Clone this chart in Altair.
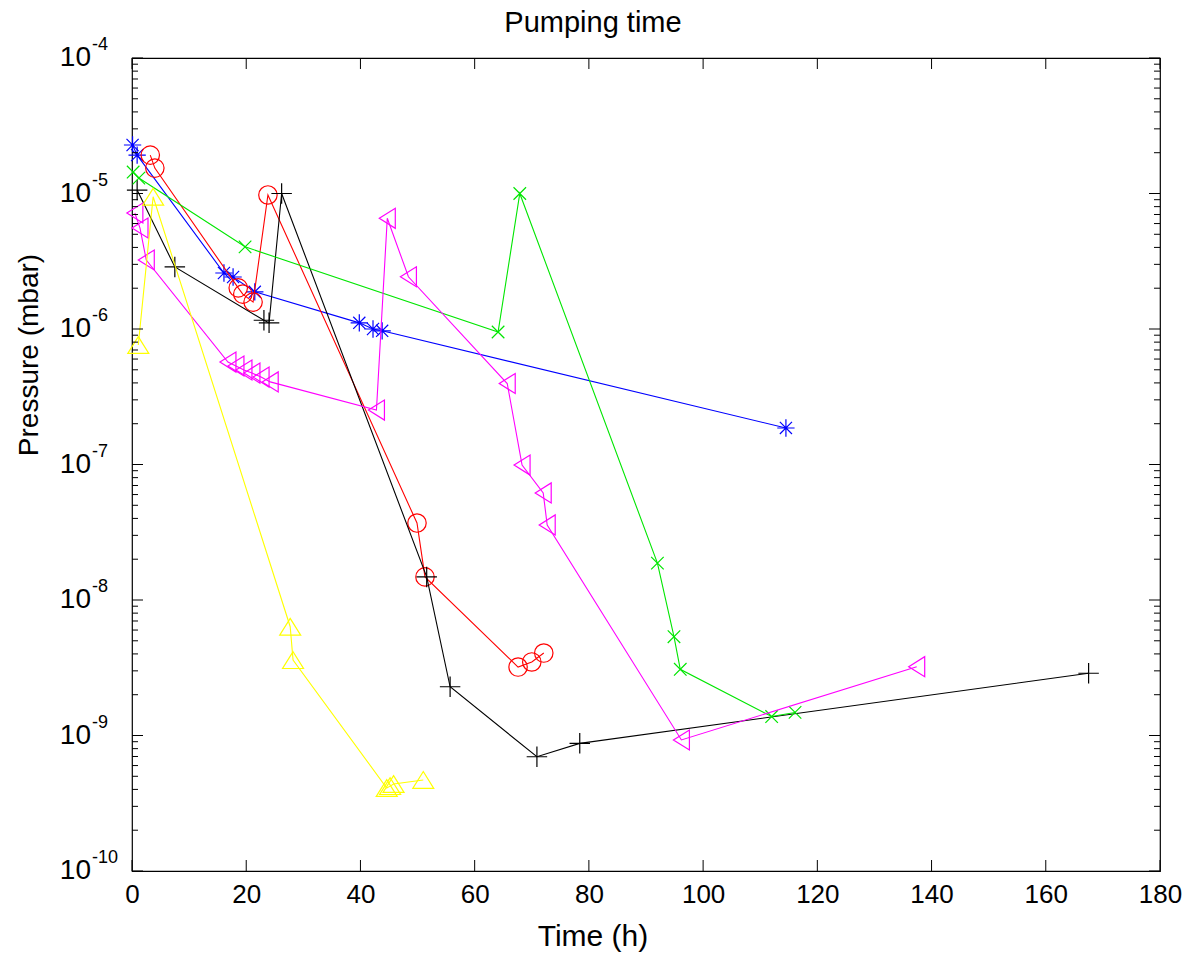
import altair as alt
import pandas as pd

# ---- data ----
blue_t = [0.1, 0.9, 16.1, 17.7, 21.5, 39.8, 42.2, 43.8, 114.5]
blue_p = [2.28e-5, 1.92e-5, 2.59e-6, 2.42e-6, 1.88e-6, 1.11e-6, 1.0e-6, 9.7e-7, 1.86e-7]

red_t = [3.2, 4.0, 18.6, 19.4, 21.2, 23.8, 49.9, 51.3, 67.6, 70.0, 72.1]
red_p = [1.92e-5, 1.54e-5, 2.01e-6, 1.81e-6, 1.58e-6, 9.75e-6, 3.7e-8, 1.48e-8, 3.2e-9, 3.49e-9, 4.06e-9]

black_t = [0.9, 7.5, 23.1, 24.0, 26.2, 51.6, 55.7, 70.9, 78.4, 167.5]
black_p = [1.06e-5, 2.87e-6, 1.16e-6, 1.11e-6, 1.0e-5, 1.48e-8, 2.29e-9, 6.97e-10, 8.75e-10, 2.88e-9]

green_t = [0.2, 1.2, 19.8, 64.1, 67.9, 92.0, 94.9, 96.0, 112.0, 116.1]
green_p = [1.44e-5, 1.3e-5, 4.04e-6, 9.5e-7, 1.0e-5, 1.87e-8, 5.36e-9, 3.08e-9, 1.38e-9, 1.48e-9]

magenta_t = [0.5, 1.4, 2.5, 16.8, 18.2, 19.6, 21.0, 22.6, 24.2, 42.8, 44.7, 48.4,
             65.7, 68.3, 72.0, 72.7, 96.2, 137.4]
magenta_p = [7.18e-6, 5.56e-6, 3.23e-6, 5.7e-7, 5.33e-7, 4.98e-7, 4.73e-7, 4.42e-7, 4.07e-7,
             2.52e-7, 6.56e-6, 2.43e-6, 3.96e-7, 9.9e-8, 6.17e-8, 3.58e-8, 9.27e-10, 3.22e-9]

yellow_t = [1.1, 3.7, 27.7, 28.2, 44.6, 45.2, 45.8, 51.0]
yellow_p = [7.62e-7, 9.46e-6, 6.35e-9, 3.6e-9, 4.1e-10, 4.23e-10, 4.38e-10, 4.7e-10]

x_ticks = [0, 20, 40, 60, 80, 100, 120, 140, 160, 180]
y_decades = [1e-4, 1e-5, 1e-6, 1e-7, 1e-8, 1e-9, 1e-10]
y_exps = ["-4", "-5", "-6", "-7", "-8", "-9", "-10"]

title_text = "Pumping time"
xlabel_text = "Time (h)"
ylabel_text = "Pressure (mbar)"

W, H = 1028, 813
FONT = "Liberation Sans"

xscale = alt.Scale(domain=[0, 180], nice=False, zero=False)
yscale = alt.Scale(type="log", domain=[1e-10, 1e-4], nice=False)

x_axis = alt.Axis(values=x_ticks, ticks=False, domain=False, grid=False, title=None,
                  labelFontSize=26, labelFont=FONT, labelColor="black", labelPadding=10,
                  labelFlush=False, format="d")

STAR = "M-1,0L1,0M0,-1L0,1M-0.7,-0.7L0.7,0.7M-0.7,0.7L0.7,-0.7"
PLUS = "M-1,0L1,0M0,-1L0,1"
XMARK = "M-0.7,-0.7L0.7,0.7M-0.7,0.7L0.7,-0.7"
TRI_LEFT = "M-0.8,0L0.8,-1L0.8,1Z"
TRI_UP = "M0,-0.8L1,0.8L-1,0.8Z"

series = [
    ("blue", blue_t, blue_p, "#0000ff", STAR, 300),
    ("red", red_t, red_p, "#ff0000", "circle", 340),
    ("black", black_t, black_p, "#000000", PLUS, 420),
    ("green", green_t, green_p, "#00e600", XMARK, 320),
    ("magenta", magenta_t, magenta_p, "#ff00ff", TRI_LEFT, 400),
    ("yellow", yellow_t, yellow_p, "#ffff00", TRI_UP, 440),
]

layers = []
for name, ts, ps, col, shape, size in series:
    df = pd.DataFrame({"t": ts, "p": ps, "i": list(range(len(ts)))})
    base = alt.Chart(df).encode(
        x=alt.X("t:Q", scale=xscale, axis=x_axis),
        y=alt.Y("p:Q", scale=yscale, axis=None),
    )
    layers.append(base.mark_line(color=col, strokeWidth=1.1).encode(order="i:Q"))
    layers.append(base.mark_point(shape=shape, size=size, filled=False, color=col,
                                  strokeWidth=1.2, opacity=1))

# tick marks (inside, on all four sides)
major_df = pd.DataFrame({"v": y_decades})
minor_vals = []
for e in range(-10, -4):
    for k in range(2, 10):
        minor_vals.append(k * 10.0 ** e)
minor_df = pd.DataFrame({"v": minor_vals})
xt_df = pd.DataFrame({"t": x_ticks})

def yrule(df, x0, x1):
    return alt.Chart(df).mark_rule(color="black", strokeWidth=1).encode(
        y=alt.Y("v:Q", scale=yscale, axis=None), x=alt.value(x0), x2=alt.value(x1))

layers += [
    yrule(major_df, 0, 11), yrule(major_df, W - 11, W),
    yrule(minor_df, 0, 6), yrule(minor_df, W - 6, W),
    alt.Chart(xt_df).mark_rule(color="black", strokeWidth=1).encode(
        x=alt.X("t:Q", scale=xscale, axis=x_axis), y=alt.value(H), y2=alt.value(H - 11)),
    alt.Chart(xt_df).mark_rule(color="black", strokeWidth=1).encode(
        x=alt.X("t:Q", scale=xscale, axis=x_axis), y=alt.value(0), y2=alt.value(11)),
]

# y tick labels: 10 with superscript exponent
lab_df = pd.DataFrame({"v": y_decades, "base": ["10"] * len(y_decades), "exp": y_exps})
layers.append(alt.Chart(lab_df).mark_text(align="right", baseline="middle", fontSize=28,
                                          font=FONT, color="black").encode(
    y=alt.Y("v:Q", scale=yscale, axis=None), x=alt.value(-41), text="base:N"))
layers.append(alt.Chart(lab_df).mark_text(align="left", baseline="middle", fontSize=18,
                                          font=FONT, color="black", dy=-13).encode(
    y=alt.Y("v:Q", scale=yscale, axis=None), x=alt.value(-40), text="exp:N"))

# titles
layers.append(alt.Chart(pd.DataFrame({"s": [title_text]})).mark_text(
    align="center", baseline="middle", fontSize=29, font=FONT, color="black").encode(
    x=alt.value(461), y=alt.value(-35), text="s:N"))
layers.append(alt.Chart(pd.DataFrame({"s": [xlabel_text]})).mark_text(
    align="center", baseline="middle", fontSize=30, font=FONT, color="black").encode(
    x=alt.value(461), y=alt.value(879), text="s:N"))
layers.append(alt.Chart(pd.DataFrame({"s": [ylabel_text]})).mark_text(
    align="center", baseline="middle", fontSize=28, font=FONT, color="black", angle=270).encode(
    x=alt.value(-102), y=alt.value(297), text="s:N"))

chart = alt.layer(*layers).properties(
    width=W, height=H,
    padding={"left": 132, "top": 58, "right": 31, "bottom": 89},
    autosize=alt.AutoSizeParams(type="none"),
    background="white",
).configure_view(stroke="black", strokeWidth=1.2)

chart.save("out.html", embed_options={"renderer": "svg", "actions": False})
